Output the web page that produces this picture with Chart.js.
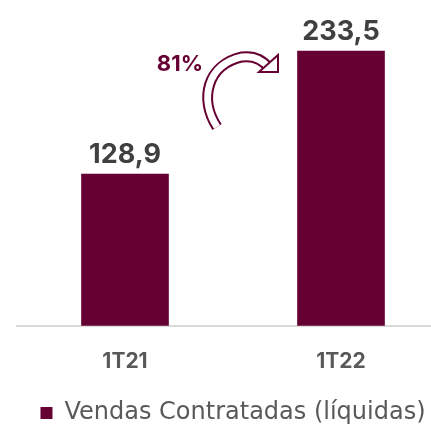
<!DOCTYPE html>
<html>
<head>
<meta charset="utf-8">
<script src="https://cdn.jsdelivr.net/npm/chart.js@4"></script>
<style>
  html, body { margin: 0; padding: 0; background: #fff; overflow: hidden; }
  #wrap { width: 449px; height: 429px; }
</style>
</head>
<body>
<div id="wrap"><canvas id="salesChart"></canvas></div>
<script>
// Chart data
const quarters = ['1T21', '1T22'];
const salesValues = [128.9, 233.5];
const growthLabel = '81%';
const seriesName = 'Vendas Contratadas (líquidas)';

const wine = '#660033';
const fontName = 'Inter, "Open Sans", sans-serif';

// value labels above bars + growth arrow
const annotations = {
  id: 'annotations',
  afterDatasetsDraw(chart) {
    const ctx = chart.ctx;
    const meta = chart.getDatasetMeta(0);
    ctx.save();
    ctx.fillStyle = '#404040';
    ctx.font = 'bold 27px ' + fontName;
    ctx.textAlign = 'center';
    ctx.textBaseline = 'alphabetic';
    meta.data.forEach(function(bar, i) {
      ctx.fillText(salesValues[i].toFixed(1).replace('.', ','), bar.x, bar.y - 11);
    });

    // curved arrow between bars
    const b0 = meta.data[0], b1 = meta.data[1];
    const x0 = b0.x + 88, yTop = b1.y;
    const path = function() {
      ctx.beginPath();
      ctx.moveTo(x0 + 4, yTop + 76);
      ctx.bezierCurveTo(x0 - 14, yTop + 48, x0 - 6, yTop + 14, x0 + 29, yTop + 6);
      ctx.quadraticCurveTo(x0 + 46, yTop + 4, x0 + 56, yTop + 17);
    };
    ctx.lineCap = 'butt';
    path();
    ctx.strokeStyle = wine;
    ctx.lineWidth = 11;
    ctx.stroke();
    path();
    ctx.strokeStyle = '#ffffff';
    ctx.lineWidth = 7;
    ctx.stroke();
    // head
    ctx.beginPath();
    ctx.moveTo(x0 + 65, yTop + 4);
    ctx.lineTo(x0 + 65, yTop + 21);
    ctx.lineTo(x0 + 46, yTop + 21);
    ctx.closePath();
    ctx.fillStyle = '#ffffff';
    ctx.fill();
    ctx.strokeStyle = wine;
    ctx.lineWidth = 2;
    ctx.stroke();

    ctx.fillStyle = wine;
    ctx.font = 'bold 22px ' + fontName;
    ctx.textAlign = 'right';
    ctx.textBaseline = 'middle';
    ctx.fillText(growthLabel, x0 - 10, yTop + 13);
    ctx.restore();
  }
};

new Chart(document.getElementById('salesChart'), {
  type: 'bar',
  data: {
    labels: quarters,
    datasets: [{
      label: seriesName,
      data: salesValues,
      backgroundColor: wine,
      borderWidth: 0,
      barThickness: 87
    }]
  },
  options: {
    responsive: true,
    maintainAspectRatio: false,
    animation: false,
    layout: { padding: { left: 17, right: 0, top: 8, bottom: -6 } },
    scales: {
      x: {
        grid: { display: false, drawTicks: false },
        border: { display: true, color: '#d9d9d9', width: 2 },
        ticks: {
          color: '#595959',
          font: { family: fontName, size: 21, weight: 'bold' },
          padding: 23
        }
      },
      y: {
        display: false,
        min: 0,
        max: 270
      }
    },
    plugins: {
      legend: {
        display: true,
        position: 'bottom',
        align: 'center',
        labels: {
          color: '#595959',
          font: { family: '"DejaVu Sans", sans-serif', size: 24 },
          boxWidth: 12,
          boxHeight: 12,
          padding: 4,
          useBorderRadius: false
        }
      },
      tooltip: { enabled: false }
    }
  },
  plugins: [annotations]
});
</script>
</body>
</html>
